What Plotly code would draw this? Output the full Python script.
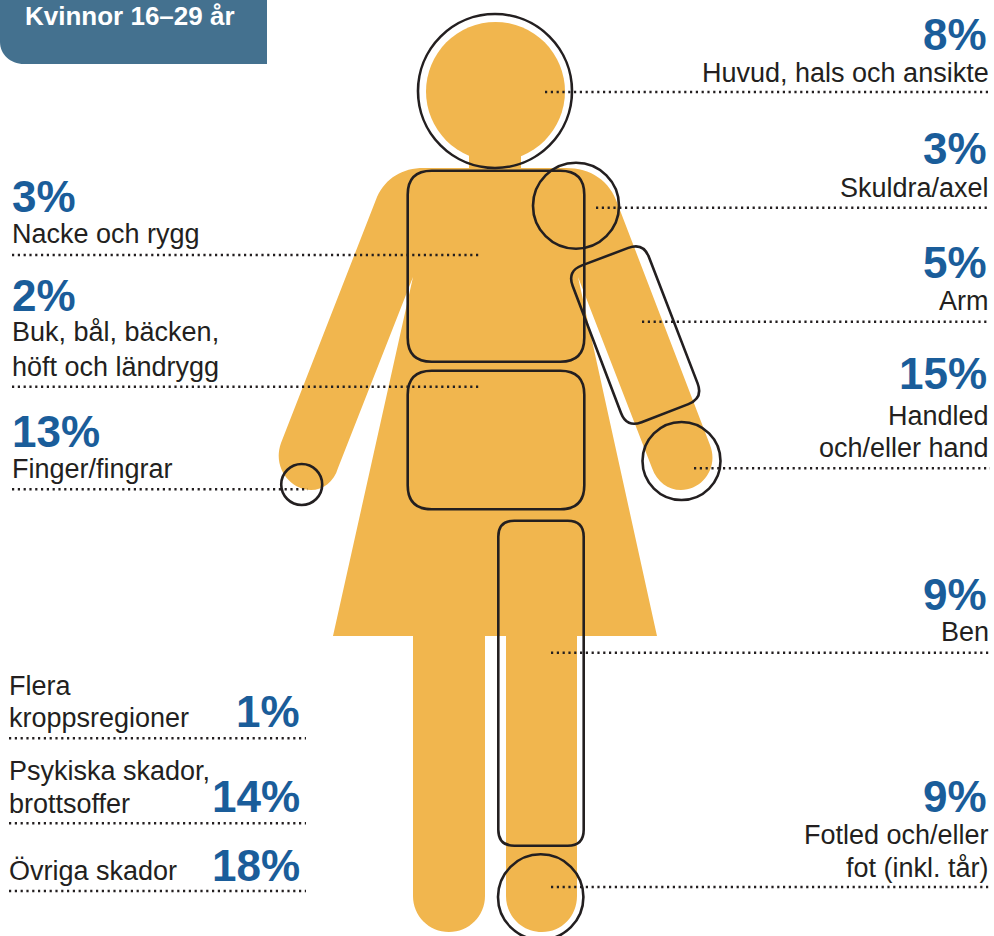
import plotly.graph_objects as go

# ---- data ----
title = "Kvinnor 16–29 år"
right_regions = ["Huvud, hals och ansikte", "Skuldra/axel", "Arm", "Handled\noch/eller hand", "Ben", "Fotled och/eller\nfot (inkl. tår)"]
right_shares = [8, 3, 5, 15, 9, 9]
left_regions = ["Nacke och rygg", "Buk, bål, bäcken,\nhöft och ländrygg", "Finger/fingrar"]
left_shares = [3, 2, 13]
other_regions = ["Flera\nkroppsregioner", "Psykiska skador,\nbrottsoffer", "Övriga skador"]
other_shares = [1, 14, 18]

# ---- layout of the infographic (pixel space of the drawing) ----
W, H = 994, 936
YELLOW, INK, BLUE, HEADER = "#f1b64e", "#231f20", "#1a5d9a", "#44718f"
FONT = "Liberation Sans"
LABEL_SIZE, PCT_SIZE = 27, 44

right_label_y = [[73], [188], [301], [416, 448], [632], [835, 868]]
right_pct_y = [34, 148, 262, 373, 594, 796]
right_line = [(545, 92), (596, 207.7), (642, 321.7), (694, 468.3), (551, 652.7), (551, 887)]
left_label_y = [[234], [332, 367], [469]]
left_pct_y = [196, 295, 431]
left_line = [(480, 255), (480, 386.7), (308, 489.3)]
other_label_y = [[686, 718], [771, 804], [871]]
other_pct_y = [711, 796, 865]
other_line_y = [738.3, 823.3, 891]


def rounded_poly(points, r):
    """Closed SVG path through points with corners rounded at radius r."""
    n = len(points)
    parts = []
    for i in range(n):
        px, py = points[i - 1]
        cx, cy = points[i]
        nx, ny = points[(i + 1) % n]
        d1 = ((px - cx) ** 2 + (py - cy) ** 2) ** 0.5
        d2 = ((nx - cx) ** 2 + (ny - cy) ** 2) ** 0.5
        a = (cx + (px - cx) * r / d1, cy + (py - cy) * r / d1)
        b = (cx + (nx - cx) * r / d2, cy + (ny - cy) * r / d2)
        parts.append(f"{'M' if i == 0 else 'L'} {a[0]:.1f} {a[1]:.1f} Q {cx} {cy} {b[0]:.1f} {b[1]:.1f}")
    return " ".join(parts) + " Z"


BODY = (
    "M 469 150 L 469 168 L 424 168 C 402 168 386 178 377 197 "
    "L 281 443 C 272 468 291 490 311 490 C 323 490 334 482 338 468 "
    "L 413 277 L 333 636 L 413 636 L 413 896 C 413 916 429 932 449 932 C 469 932 485 916 485 896 "
    "L 485 636 L 506 636 L 506 896 C 506 916 522 932 542 932 C 562 932 577 916 577 896 "
    "L 577 636 L 657 636 L 578 277 L 652 468 C 657 482 668 490 681 490 C 702 490 719 468 710 445 "
    "L 618 205 C 610 180 590 168 566 168 L 521 168 L 521 150 Z"
)

OUTLINES = [
    rounded_poly([(407.7, 170.7), (584.3, 170.7), (584.3, 361.7), (407.7, 361.7)], 24),
    rounded_poly([(407.7, 370.7), (584.3, 370.7), (584.3, 509.3), (407.7, 509.3)], 24),
    rounded_poly([(498.3, 520.7), (583.7, 520.7), (583.7, 845.7), (498.3, 845.7)], 16),
    rounded_poly([(567, 271), (643.3, 242.3), (703.3, 398.3), (626.7, 428)], 16),
]
CIRCLES = [(495, 91, 77), (576, 205.7, 43), (681.5, 461, 39), (301.7, 484.5, 20.5), (540.7, 897, 42.7)]

shapes = [
    dict(type="path", path="M 0 0 L 267 0 L 267 64 L 24 64 C 10 64 0 54 0 42 Z", fillcolor=HEADER, line_width=0, layer="below"),
    dict(type="circle", x0=426, x1=565, y0=22, y1=161, fillcolor=YELLOW, line_width=0, layer="below"),
    dict(type="path", path=BODY, fillcolor=YELLOW, line_width=0, layer="below"),
]
for p in OUTLINES:
    shapes.append(dict(type="path", path=p, line=dict(color=INK, width=2.6), fillcolor="rgba(0,0,0,0)"))
for cx, cy, r in CIRCLES:
    shapes.append(dict(type="circle", x0=cx - r, x1=cx + r, y0=cy - r, y1=cy + r,
                       line=dict(color=INK, width=2.6), fillcolor="rgba(0,0,0,0)"))


def dotted(x0, x1, y):
    shapes.append(dict(type="line", x0=x0, x1=x1, y0=y, y1=y,
                       line=dict(color=INK, width=2.4, dash="2.2px,3.6px")))


annotations = []


def text(x, y, s, anchor, size=LABEL_SIZE, color=INK, bold=False):
    annotations.append(dict(x=x, y=y, text=f"<b>{s}</b>" if bold else s, showarrow=False,
                            xanchor=anchor, yanchor="middle", xshift=0, borderpad=0, borderwidth=0,
                            font=dict(family=FONT, size=size, color=color)))


for name, share, ys, py, (lx, ly) in zip(right_regions, right_shares, right_label_y, right_pct_y, right_line):
    text(987, py, f"{share}%", "right", PCT_SIZE, BLUE, True)
    for line, y in zip(name.split("\n"), ys):
        text(989, y, line, "right")
    dotted(lx, 990, ly)

for name, share, ys, py, (lx, ly) in zip(left_regions, left_shares, left_label_y, left_pct_y, left_line):
    text(12, py, f"{share}%", "left", PCT_SIZE, BLUE, True)
    for line, y in zip(name.split("\n"), ys):
        text(12, y, line, "left")
    dotted(12, lx, ly)

for name, share, ys, py, ly in zip(other_regions, other_shares, other_label_y, other_pct_y, other_line_y):
    text(300, py, f"{share}%", "right", PCT_SIZE, BLUE, True)
    for line, y in zip(name.split("\n"), ys):
        text(9, y, line, "left")
    dotted(9, 306, ly)

text(25, 16, title, "left", 26, "#ffffff", True)

fig = go.Figure()
fig.update_layout(
    width=W, height=H, margin=dict(l=0, r=0, t=0, b=0),
    paper_bgcolor="white", plot_bgcolor="white", showlegend=False,
    xaxis=dict(range=[0, W], visible=False, fixedrange=True),
    yaxis=dict(range=[H, 0], visible=False, fixedrange=True),
    shapes=shapes, annotations=annotations,
)
fig.write_html("out.html", post_script="document.body.style.margin='0';document.body.style.overflow='hidden';",
               config=dict(displayModeBar=False))
